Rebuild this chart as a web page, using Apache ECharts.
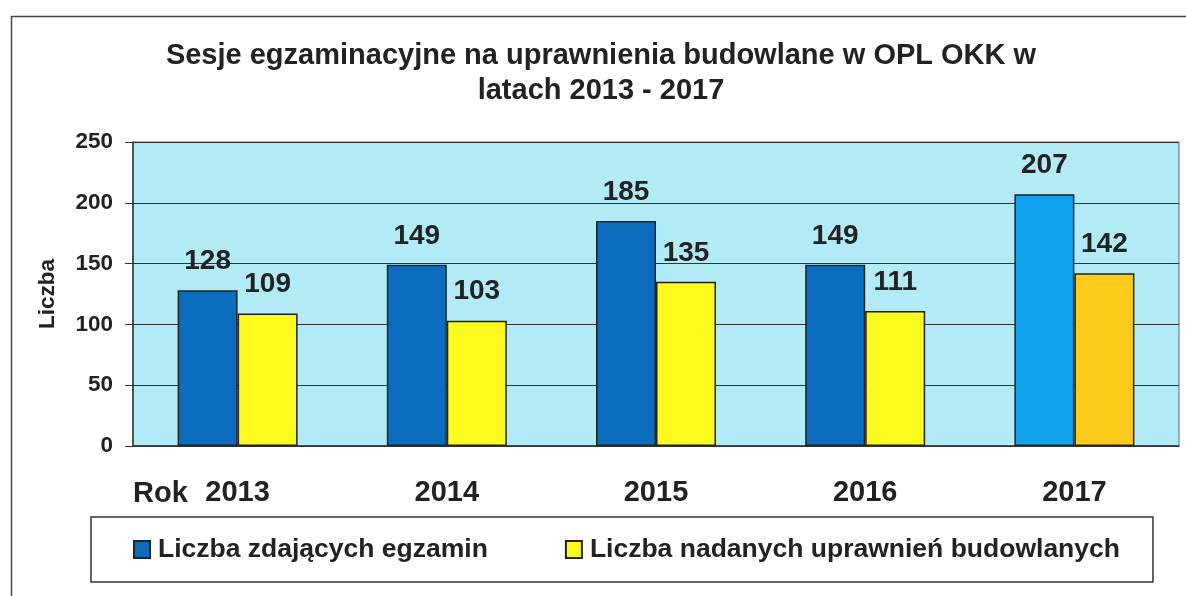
<!DOCTYPE html>
<html>
<head>
<meta charset="utf-8">
<script src="https://cdn.jsdelivr.net/npm/echarts@6/dist/echarts.min.js"></script>
<style>
html, body { margin: 0; padding: 0; background: #fff; }
#chart { width: 1186px; height: 596px; }
</style>
</head>
<body>
<div id="chart"></div>
<script>
var years = ['2013', '2014', '2015', '2016', '2017'];
var zdajacy = [128, 149, 185, 149, 207];
var nadane = [109, 103, 135, 111, 142];
var yTicks = [0, 50, 100, 150, 200, 250];

var kolorZdajacy = '#0b6dbd';
var kolorNadane = '#fdfa1e';
// ostatni rok ma inne kolory
var kolorZdajacy2017 = '#10a2ec';
var kolorNadane2017 = '#fdcb1c';

var FONT = 'Liberation Sans, Arial';

function dane(values, lastColor) {
    return values.map(function (v, i) {
        if (i === values.length - 1) {
            return { value: v, itemStyle: { color: lastColor } };
        }
        return v;
    });
}

var myChart = echarts.init(document.getElementById('chart'));
var option = {
    backgroundColor: '#fff',
    title: {
        text: 'Sesje egzaminacyjne na uprawnienia budowlane w OPL OKK w\nlatach 2013 - 2017',
        left: 596,
        top: 33,
        textAlign: 'center',
        textStyle: {
            fontFamily: FONT,
            fontSize: 29,
            fontWeight: 'bold',
            color: '#222',
            lineHeight: 35
        }
    },
    graphic: [{
        type: 'rect',
        left: 9,
        top: 14,
        shape: { width: 1200, height: 600 },
        style: { fill: 'none', stroke: '#444', lineWidth: 1.5 },
        silent: true
    }],
    legend: {
        left: 91,
        top: 517,
        padding: [19, 33, 19, 42],
        borderColor: '#333',
        borderWidth: 1.5,
        icon: 'rect',
        itemWidth: 16,
        itemHeight: 17,
        itemGap: 77,
        textStyle: {
            fontFamily: FONT,
            fontSize: 26.5,
            fontWeight: 'bold',
            color: '#222',
            padding: [0, 0, 0, 3]
        },
        data: ['Liczba zdających egzamin', 'Liczba nadanych uprawnień budowlanych']
    },
    grid: {
        left: 133,
        right: 7,
        top: 142,
        bottom: 150,
        show: true,
        backgroundColor: '#b2ebf6',
        borderColor: '#666',
        borderWidth: 1
    },
    xAxis: {
        type: 'category',
        data: years,
        name: 'Rok',
        nameLocation: 'start',
        nameGap: 0,
        nameTextStyle: {
            fontFamily: FONT,
            fontSize: 29,
            fontWeight: 'bold',
            color: '#222',
            align: 'left',
            verticalAlign: 'top',
            padding: [33, 0, 0, 0]
        },
        axisLine: { lineStyle: { color: '#333', width: 1.5 } },
        axisTick: { length: 8, lineStyle: { color: '#333' } },
        axisLabel: {
            margin: 32,
            fontFamily: FONT,
            fontSize: 29,
            fontWeight: 'bold',
            color: '#222'
        }
    },
    yAxis: {
        type: 'value',
        min: yTicks[0],
        max: yTicks[yTicks.length - 1],
        interval: 50,
        name: 'Liczba',
        nameLocation: 'middle',
        nameGap: 74,
        nameTextStyle: {
            fontFamily: FONT,
            fontSize: 22.5,
            fontWeight: 'bold',
            color: '#222'
        },
        axisLine: { show: true, lineStyle: { color: '#333', width: 1.5 } },
        axisTick: { show: true, length: 8, lineStyle: { color: '#333' } },
        axisLabel: {
            margin: 20,
            fontFamily: FONT,
            fontSize: 22.5,
            fontWeight: 'bold',
            color: '#222'
        },
        splitLine: { lineStyle: { color: '#333', width: 1.2 } }
    },
    series: [{
        name: 'Liczba zdających egzamin',
        type: 'bar',
        barWidth: 60,
        barGap: '0%',
        itemStyle: { color: kolorZdajacy, borderColor: '#222', borderWidth: 1.5 },
        label: {
            show: true,
            position: 'top',
            distance: 15,
            fontFamily: FONT,
            fontSize: 28,
            fontWeight: 'bold',
            color: '#222'
        },
        data: dane(zdajacy, kolorZdajacy2017)
    }, {
        name: 'Liczba nadanych uprawnień budowlanych',
        type: 'bar',
        barWidth: 60,
        barGap: '0%',
        itemStyle: { color: kolorNadane, borderColor: '#222', borderWidth: 1.5 },
        label: {
            show: true,
            position: 'top',
            distance: 15,
            fontFamily: FONT,
            fontSize: 28,
            fontWeight: 'bold',
            color: '#222'
        },
        data: dane(nadane, kolorNadane2017)
    }]
};
myChart.setOption(option);
</script>
</body>
</html>
